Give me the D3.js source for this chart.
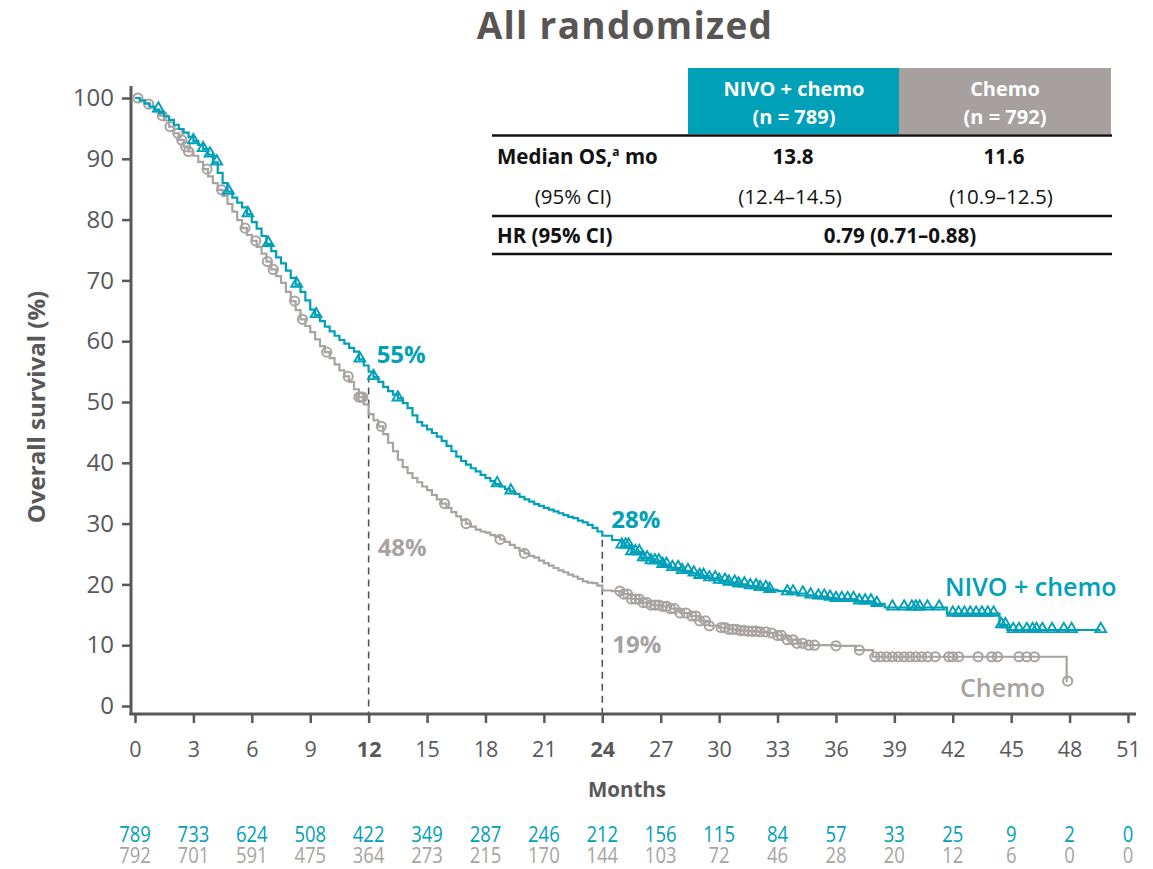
<!DOCTYPE html>
<html>
<head>
<meta charset="utf-8">
<script src="https://cdn.jsdelivr.net/npm/d3@7"></script>
<style>
  html, body { margin: 0; padding: 0; background: #ffffff; }
  svg { display: block; font-family: "Open Sans", "DejaVu Sans", sans-serif; }
</style>
</head>
<body>
<svg id="chart" width="1153" height="869"></svg>
<script>
// Kaplan–Meier overall survival, all randomized patients
const title = "All randomized";

// Survival step-function knots: [month, overall survival %]
const nivoSurvival = [
  [0,100],[0.25,99.6],[0.5,99.1],[0.75,98.6],[1.0,98.1],[1.25,97.5],[1.5,97.0],[1.75,96.4],
  [2.0,95.6],[2.25,94.9],[2.5,94.3],[2.75,93.6],[3.0,92.9],[3.25,92.3],[3.5,91.6],[3.75,90.7],
  [4.0,89.4],[4.25,87.7],[4.5,86.0],[4.75,84.6],[5.0,83.6],[5.25,82.8],[5.5,82.0],[5.75,80.9],
  [6.0,79.6],[6.25,78.5],[6.5,77.3],[6.75,76.0],[7.0,74.8],[7.25,73.8],[7.5,72.8],[7.75,71.6],
  [8.0,70.4],[8.25,69.3],[8.5,68.1],[8.75,66.7],[9.0,65.2],[9.25,64.3],[9.5,63.3],[9.75,62.4],
  [10.0,61.6],[10.25,60.9],[10.5,60.2],[10.75,59.6],[11.0,58.9],[11.25,58.3],[11.5,57.0],[11.75,56.0],
  [12.0,55.0],[12.25,54.1],[12.5,53.3],[12.75,52.5],[13.0,51.8],[13.25,51.2],[13.5,50.6],[13.75,49.8],
  [14.0,49.0],[14.25,47.8],[14.5,46.7],[14.75,46.1],[15.0,45.5],[15.25,44.9],[15.5,44.3],[15.75,43.6],
  [16.0,42.8],[16.25,41.9],[16.5,41.0],[16.75,40.3],[17.0,39.7],[17.25,39.1],[17.5,38.6],[17.75,38.0],
  [18.0,37.5],[18.25,37.0],[18.5,36.5],[18.75,36.1],[19.0,35.7],[19.25,35.3],[19.5,34.9],[19.75,34.4],
  [20.0,34.0],[20.25,33.6],[20.5,33.2],[20.75,32.9],[21.0,32.6],[21.25,32.3],[21.5,32.0],[21.75,31.7],
  [22.0,31.4],[22.25,31.1],[22.5,30.9],[22.75,30.5],[23.0,30.2],[23.25,29.8],[23.5,29.3],[23.75,28.7],
  [24.0,28.0],[24.5,27.3],[25.0,26.4],[25.5,25.3],[26.0,24.3],[26.5,23.8],[27.0,23.2],[27.5,22.7],
  [28.0,22.2],[28.5,21.8],[29.0,21.4],[29.5,21.0],[30.0,20.6],[30.5,20.3],[31.0,20.0],[31.5,19.7],
  [32.0,19.4],[32.5,19.1],[33.0,18.9],[33.5,18.7],[34.0,18.5],[34.5,18.2],[35.0,18.0],[35.5,17.8],
  [36.0,17.6],[37.0,17.2],[38.0,16.8],[38.5,16.2],[41.7,15.2],[44.4,13.3],[44.8,12.5],[49.6,12.5]
];
const chemoSurvival = [
  [0,100],[0.25,99.5],[0.5,99.0],[0.75,98.4],[1.0,97.8],[1.25,97.1],[1.5,96.3],[1.75,95.3],
  [2.0,94.2],[2.25,93.1],[2.5,92.0],[2.75,91.2],[3.0,90.5],[3.25,89.5],[3.5,88.3],[3.75,87.1],
  [4.0,86.0],[4.25,84.9],[4.5,83.9],[4.75,82.6],[5.0,81.3],[5.25,79.9],[5.5,78.6],[5.75,77.5],
  [6.0,76.5],[6.25,75.5],[6.5,74.4],[6.75,73.1],[7.0,71.8],[7.25,70.7],[7.5,69.6],[7.75,68.1],
  [8.0,66.6],[8.25,65.1],[8.5,63.6],[8.75,62.5],[9.0,61.5],[9.25,60.3],[9.5,59.2],[9.75,58.2],
  [10.0,57.2],[10.25,56.2],[10.5,55.2],[10.75,54.2],[11.0,53.3],[11.25,52.1],[11.5,50.8],[11.75,49.6],
  [12.0,48.0],[12.25,47.0],[12.5,46.0],[12.75,44.7],[13.0,43.3],[13.25,41.9],[13.5,40.5],[13.75,39.3],
  [14.0,38.3],[14.25,37.5],[14.5,36.8],[14.75,36.1],[15.0,35.5],[15.25,34.7],[15.5,34.0],[15.75,33.3],
  [16.0,32.6],[16.25,31.9],[16.5,31.2],[16.75,30.6],[17.0,30.0],[17.25,29.5],[17.5,29.0],[17.75,28.7],
  [18.0,28.5],[18.25,28.1],[18.5,27.8],[18.75,27.4],[19.0,27.0],[19.25,26.5],[19.5,26.0],[19.75,25.5],
  [20.0,25.1],[20.25,24.7],[20.5,24.4],[20.75,23.9],[21.0,23.5],[21.25,23.1],[21.5,22.7],[21.75,22.3],
  [22.0,22.0],[22.25,21.6],[22.5,21.3],[22.75,20.9],[23.0,20.5],[23.25,20.3],[23.5,20.2],[23.75,19.8],
  [24.0,19.0],[24.5,18.9],[25.0,18.4],[25.5,17.6],[26.0,17.0],[26.5,16.6],[27.0,16.4],[27.5,16.0],
  [28.0,15.3],[28.5,14.8],[29.0,14.0],[29.5,13.2],[30.0,12.9],[30.5,12.6],[31.0,12.4],[31.5,12.3],
  [32.0,12.2],[32.5,12.0],[33.0,11.6],[33.5,10.9],[34.0,10.3],[34.5,10.0],[36.0,9.9],[37.0,9.2],
  [37.9,8.1],[47.85,8.1],[47.85,4.1],[47.9,4.1]
];

// Censoring times (months)
const nivoCensored = [
  1.2,3.0,3.5,3.85,4.2,4.8,5.8,6.85,8.3,9.3,11.55,12.25,13.5,18.6,19.3,
  25.0,25.2,25.35,25.5,25.7,25.9,26.1,26.3,26.5,26.7,26.9,27.1,27.3,27.6,27.9,28.1,28.4,28.7,
  29.0,29.2,29.5,29.8,30.0,30.3,30.5,30.8,31.0,31.3,31.6,31.9,32.1,32.4,32.6,33.5,33.8,34.3,34.7,
  35.1,35.4,35.7,36.0,36.3,36.6,36.9,37.2,37.5,37.8,38.1,38.9,39.5,39.9,40.1,40.3,40.7,41.3,
  42.0,42.3,42.6,42.9,43.2,43.5,43.8,44.1,44.5,44.7,45.1,45.4,45.8,46.1,46.3,46.6,47.1,47.7,48.1,49.6
];
const chemoCensored = [
  0.15,0.7,1.4,1.8,2.2,2.4,2.6,2.75,3.7,4.45,5.65,6.2,6.8,7.1,8.2,8.6,9.85,10.95,11.5,11.6,11.7,
  12.65,15.9,17.0,18.75,20.0,
  24.9,25.1,25.3,25.5,25.7,25.9,26.1,26.3,26.5,26.7,26.9,27.1,27.3,27.5,27.7,28.0,28.3,28.6,28.8,
  29.0,29.3,29.5,30.1,30.3,30.5,30.7,30.9,31.1,31.3,31.5,31.7,31.9,32.1,32.4,32.7,33.0,33.2,33.5,
  33.8,34.0,34.3,34.6,34.9,36.0,37.2,38.0,38.3,38.6,38.9,39.2,39.5,39.8,40.1,40.4,40.7,41.1,41.8,
  42.0,42.3,43.3,44.0,44.3,45.4,45.8,46.2,47.9
];

// Landmark survival rates at 12 and 24 months
const landmarkMonths = [12, 24];
const nivoLandmarks = [55, 28];
const chemoLandmarks = [48, 19];

// Axis ticks
const monthTicks = [0,3,6,9,12,15,18,21,24,27,30,33,36,39,42,45,48,51];
const survivalTicks = [0,10,20,30,40,50,60,70,80,90,100];

// Numbers at risk
const nivoAtRisk = [789,733,624,508,422,349,287,246,212,156,115,84,57,33,25,9,2,0];
const chemoAtRisk = [792,701,591,475,364,273,215,170,144,103,72,46,28,20,12,6,0,0];

// Summary table
const armHeaders = [["NIVO + chemo", "(n = 789)"], ["Chemo", "(n = 792)"]];
const medianOS = ["13.8", "11.6"];
const medianCI = ["(12.4–14.5)", "(10.9–12.5)"];
const hazardRatio = "0.79 (0.71–0.88)";

const TEAL = "#00a0b9";
const GRAY = "#a8a3a1";
const AXIS = "#58585a";

const svg = d3.select("#chart");

const x = d3.scaleLinear().domain([0, 51]).range([135, 1128]);
const y = d3.scaleLinear().domain([0, 100]).range([706, 98]);
const xAxisY = 714;
const yAxisX = 131;

// Title
svg.append("text")
  .attr("x", 625).attr("y", 39)
  .attr("text-anchor", "middle")
  .attr("font-size", 37).attr("font-weight", 700)
  .attr("letter-spacing", 1.3)
  .attr("fill", "#595554")
  .text(title);

// Y axis
const yAxis = svg.append("g")
  .attr("transform", `translate(${yAxisX},0)`)
  .call(d3.axisLeft(y).tickValues(survivalTicks).tickSize(9).tickPadding(8).tickSizeOuter(0));
yAxis.select(".domain").remove();
yAxis.selectAll(".tick line").attr("stroke", AXIS).attr("stroke-width", 2.5);
yAxis.selectAll(".tick text")
  .attr("font-size", 24).attr("fill", AXIS)
  .attr("font-family", "'Open Sans', sans-serif");
svg.append("line")
  .attr("x1", yAxisX).attr("x2", yAxisX)
  .attr("y1", 86).attr("y2", xAxisY + 1)
  .attr("stroke", AXIS).attr("stroke-width", 3);

// X axis
const xAxis = svg.append("g")
  .attr("transform", `translate(0,${xAxisY})`)
  .call(d3.axisBottom(x).tickValues(monthTicks).tickSize(9).tickPadding(19).tickSizeOuter(0));
xAxis.select(".domain").remove();
xAxis.selectAll(".tick line").attr("stroke", AXIS).attr("stroke-width", 2.5);
xAxis.selectAll(".tick text")
  .attr("font-size", 21.5).attr("fill", AXIS)
  .attr("font-family", "'Open Sans', sans-serif")
  .attr("font-weight", d => landmarkMonths.includes(d) ? 700 : 400);
svg.append("line")
  .attr("x1", yAxisX - 1.5).attr("x2", 1136)
  .attr("y1", xAxisY).attr("y2", xAxisY)
  .attr("stroke", AXIS).attr("stroke-width", 3);

// Axis titles
svg.append("text")
  .attr("transform", "translate(45,407) rotate(-90)")
  .attr("text-anchor", "middle")
  .attr("font-size", 24).attr("font-weight", 700).attr("fill", AXIS)
  .text("Overall survival (%)");
svg.append("text")
  .attr("x", 627).attr("y", 797)
  .attr("text-anchor", "middle")
  .attr("font-size", 20.5).attr("font-weight", 700).attr("fill", AXIS)
  .text("Months");

// Landmark reference lines (from the NIVO + chemo value down to the axis)
landmarkMonths.forEach((m, i) => {
  svg.append("line")
    .attr("x1", x(m)).attr("x2", x(m))
    .attr("y1", y(nivoLandmarks[i]) + 4).attr("y2", xAxisY - 1)
    .attr("stroke", "#555555").attr("stroke-width", 1.6)
    .attr("stroke-dasharray", "7,5");
});

// Survival curves
const stepLine = d3.line()
  .curve(d3.curveStepAfter)
  .x(d => x(d[0]))
  .y(d => y(d[1]));

function survivalAt(series, t) {
  let v = series[0][1];
  for (const [m, s] of series) { if (m <= t) v = s; else break; }
  return v;
}

function drawArm(series, censored, color, shape) {
  const g = svg.append("g");
  g.append("path")
    .datum(series)
    .attr("d", stepLine)
    .attr("fill", "none")
    .attr("stroke", color)
    .attr("stroke-width", 2.2);
  const marks = g.selectAll(".cens")
    .data(censored)
    .enter();
  if (shape === "triangle") {
    const tri = d3.symbol().type(d3.symbolTriangle).size(50);
    marks.append("path")
      .attr("d", tri)
      .attr("transform", d => `translate(${x(d)},${y(survivalAt(series, d)) - 1})`)
      .attr("fill", "none")
      .attr("stroke", color)
      .attr("stroke-width", 1.9);
  } else {
    marks.append("circle")
      .attr("cx", d => x(d))
      .attr("cy", d => y(survivalAt(series, d)))
      .attr("r", 4.6)
      .attr("fill", "none")
      .attr("stroke", color)
      .attr("stroke-width", 2);
  }
}

drawArm(chemoSurvival, chemoCensored, GRAY, "circle");
drawArm(nivoSurvival, nivoCensored, TEAL, "triangle");

// Landmark labels
const lm = svg.append("g").attr("font-size", 24).attr("font-weight", 700);
lm.append("text").attr("x", x(12) + 8).attr("y", y(nivoLandmarks[0]) - 8.5).attr("fill", TEAL).text(`${nivoLandmarks[0]}%`);
lm.append("text").attr("x", x(12) + 9).attr("y", y(chemoLandmarks[0]) + 142).attr("fill", GRAY).text(`${chemoLandmarks[0]}%`);
lm.append("text").attr("x", x(24) + 9).attr("y", y(nivoLandmarks[1]) - 8).attr("fill", TEAL).text(`${nivoLandmarks[1]}%`);
lm.append("text").attr("x", x(24) + 10).attr("y", y(chemoLandmarks[1]) + 62.5).attr("fill", GRAY).text(`${chemoLandmarks[1]}%`);

// Curve labels
svg.append("text").attr("x", 945).attr("y", 596)
  .attr("font-size", 25).attr("font-weight", 600).attr("fill", TEAL)
  .text("NIVO + chemo");
svg.append("text").attr("x", 960).attr("y", 697)
  .attr("font-size", 25).attr("font-weight", 600).attr("fill", GRAY)
  .text("Chemo");

// Numbers at risk
function riskRow(values, color, baseline) {
  svg.append("g").selectAll("text")
    .data(values)
    .enter().append("text")
    .attr("transform", (d, i) => `translate(${x(monthTicks[i])},${baseline}) scale(0.88,1)`)
    .attr("text-anchor", "middle")
    .attr("font-size", 21)
    .attr("fill", color)
    .text(d => d);
}
riskRow(nivoAtRisk, TEAL, 842);
riskRow(chemoAtRisk, GRAY, 863);

// Summary table
const FS = 20.5;
const tbl = svg.append("g").attr("font-family", "'Open Sans', sans-serif");
const colX = [688, 899, 1111];
const colCenter = [794, 1005];
const headFill = [TEAL, "#a6a09f"];
armHeaders.forEach((h, i) => {
  tbl.append("rect")
    .attr("x", colX[i]).attr("y", 68)
    .attr("width", colX[i + 1] - colX[i]).attr("height", 66)
    .attr("fill", headFill[i]);
  h.forEach((line, j) => {
    tbl.append("text")
      .attr("x", colCenter[i]).attr("y", 96 + j * 28)
      .attr("text-anchor", "middle")
      .attr("font-size", FS - 0.5).attr("font-weight", 700).attr("fill", "#ffffff")
      .text(line);
  });
});
[135.5, 216, 254].forEach(yy => {
  tbl.append("line")
    .attr("x1", 492).attr("x2", 1112)
    .attr("y1", yy).attr("y2", yy)
    .attr("stroke", "#111111").attr("stroke-width", 2.5);
});
const medRow = tbl.append("text")
  .attr("x", 497).attr("y", 164)
  .attr("font-size", FS).attr("font-weight", 700).attr("fill", "#111111");
medRow.append("tspan").text("Median OS,");
medRow.append("tspan").attr("font-size", 12).attr("dy", -8).text("a");
medRow.append("tspan").attr("dy", 8).text(" mo");
medianOS.forEach((v, i) => {
  tbl.append("text")
    .attr("x", colCenter[i] - 1).attr("y", 164)
    .attr("text-anchor", "middle")
    .attr("font-size", FS).attr("font-weight", 700).attr("fill", "#111111")
    .text(v);
});
tbl.append("text")
  .attr("x", 573).attr("y", 204)
  .attr("text-anchor", "middle")
  .attr("font-size", FS).attr("fill", "#111111")
  .text("(95% CI)");
medianCI.forEach((v, i) => {
  tbl.append("text")
    .attr("x", colCenter[i] - 4).attr("y", 204)
    .attr("text-anchor", "middle")
    .attr("font-size", FS).attr("fill", "#111111")
    .text(v);
});
tbl.append("text")
  .attr("x", 497).attr("y", 243)
  .attr("font-size", FS).attr("font-weight", 700).attr("fill", "#111111")
  .text("HR (95% CI)");
tbl.append("text")
  .attr("x", 900).attr("y", 243)
  .attr("text-anchor", "middle")
  .attr("font-size", FS).attr("font-weight", 700).attr("fill", "#111111")
  .text(hazardRatio);
</script>
</body>
</html>
